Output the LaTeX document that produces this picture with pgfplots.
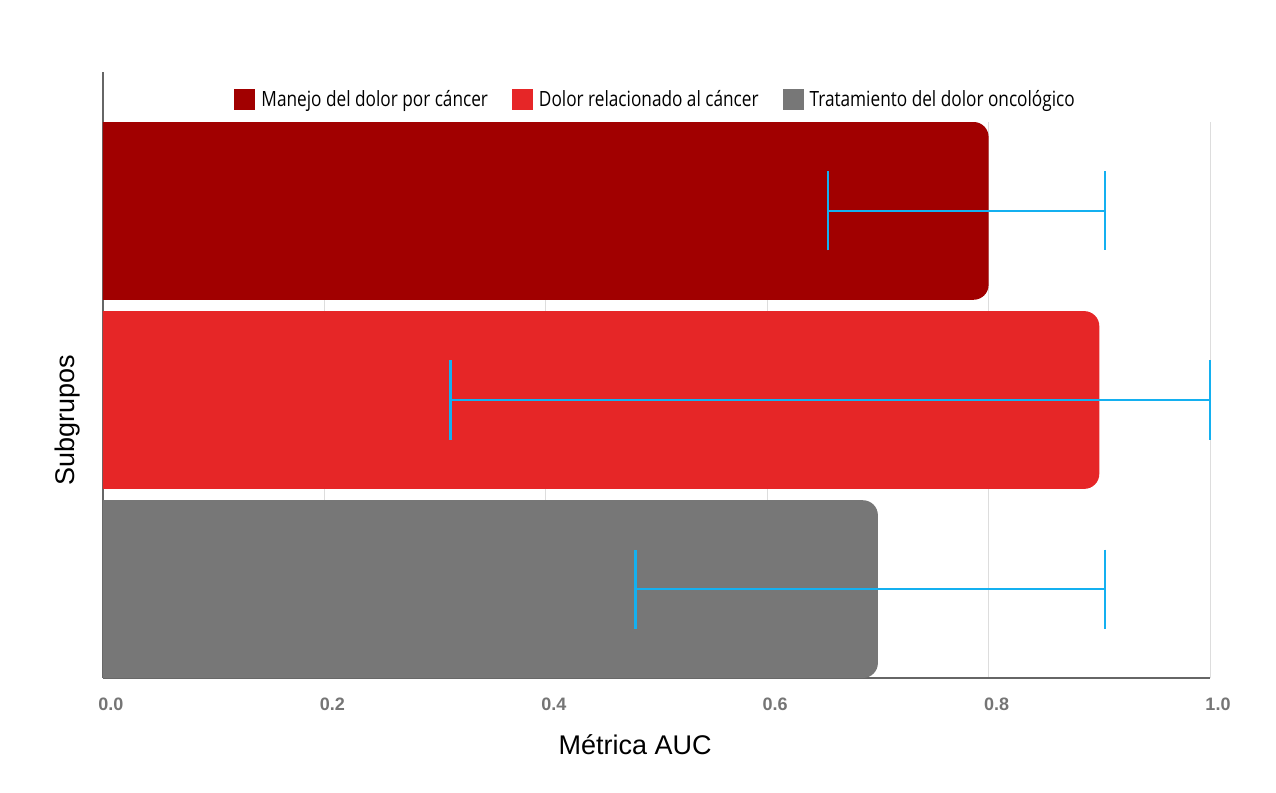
\documentclass[border=0pt]{standalone}
\usepackage{fontspec}
\setmainfont{Liberation Sans}
\newfontfamily\legfont[FakeStretch=0.82]{Open Sans}
\usepackage{pgfplots}
\pgfplotsset{compat=1.18}
\definecolor{c1}{HTML}{A10000}
\definecolor{c2}{HTML}{E62627}
\definecolor{c3}{HTML}{777777}
\definecolor{eb}{RGB}{20,176,240}
\definecolor{axgray}{HTML}{666666}
\definecolor{tickgray}{HTML}{757575}
\definecolor{gridgray}{HTML}{DDDDDD}
\pgfplotsset{
  ebstyle/.style={forget plot, draw=none, mark=none,
    error bars/.cd, x dir=both, x explicit,
    error bar style={eb, line width=1.1pt, sharp corners},
    error mark options={eb, line width=1.1pt, mark size=19.75pt, rotate=90}},
  barstyle/.style={draw=none, rounded corners=7.5pt},
}
\begin{document}
\begin{tikzpicture}
\begin{axis}[
  scale only axis, width=553.5pt, height=278pt,
  clip=false,
  xmin=0, xmax=1, ymin=-0.47, ymax=2.47,
  axis x line*=bottom, axis y line*=left,
  axis line style={axgray, line width=1pt},
  xtick={0,0.2,0.4,0.6,0.8,1}, ytick=\empty,
  major tick length=0pt,
  /pgf/number format/assume math mode=true,
  xticklabel={\pgfmathprintnumber[fixed,fixed zerofill,precision=1]{\tick}},
  xticklabel style={font=\bfseries\fontsize{9}{10}\selectfont, text=tickgray, anchor=center, yshift=-13.25pt, xshift=4pt},
  xmajorgrids, grid style={gridgray, line width=0.5pt},
  xlabel={Métrica AUC},
  xlabel style={font=\fontsize{13.5}{15}\selectfont, at={(rel axis cs:0.4806,-0.1205)}, anchor=center},
  ylabel={Subgrupos},
  ylabel style={font=\fontsize{13.5}{15}\selectfont, at={(rel axis cs:-0.0321,0.464)}, anchor=center},
  legend columns=3,
  legend style={at={(rel axis cs:0.501,1.0396)}, anchor=center, draw=none, fill=none,
    font=\legfont\fontsize{10.5}{12}\selectfont,
    /tikz/every even column/.append style={column sep=9pt},
    nodes={inner xsep=3pt, inner ysep=0pt}},
  legend image code/.code={\fill[#1, sharp corners] (0pt,-5.25pt) rectangle (10.5pt,5.25pt);},
]
% bars: value 0.80 / 0.90 / 0.70, rows at y = 2 / 1 / 0, half height 0.47
\addplot[fill=c1, barstyle] coordinates {(0,2.47) (0.80,2.47) (0.80,1.53) (0,1.53)};
\addlegendentry{Manejo del dolor por cáncer}
\addplot[fill=c2, barstyle] coordinates {(0,1.47) (0.90,1.47) (0.90,0.53) (0,0.53)};
\addlegendentry{Dolor relacionado al cáncer}
\addplot[fill=c3, barstyle] coordinates {(0,0.47) (0.70,0.47) (0.70,-0.47) (0,-0.47)};
\addlegendentry{Tratamiento del dolor oncológico}
% error bars (asymmetric)
\addplot[ebstyle] coordinates {(0.80,2) += (0.105,0) -= (0.145,0)};
\addplot[ebstyle] coordinates {(0.90,1) += (0.100,0) -= (0.586,0)};
\addplot[ebstyle] coordinates {(0.70,0) += (0.205,0) -= (0.219,0)};
\coordinate (bbsw) at (rel axis cs:0,0);
\coordinate (bbne) at (rel axis cs:1,1);
\end{axis}
\draw[axgray, line width=1pt] (bbsw |- bbne) -- ++(0,25pt);
\pgfresetboundingbox
\path[use as bounding box] ([shift={(-51.5pt,-57.5pt)}]bbsw) rectangle ([shift={(33pt,61pt)}]bbne);
\end{tikzpicture}
\end{document}
